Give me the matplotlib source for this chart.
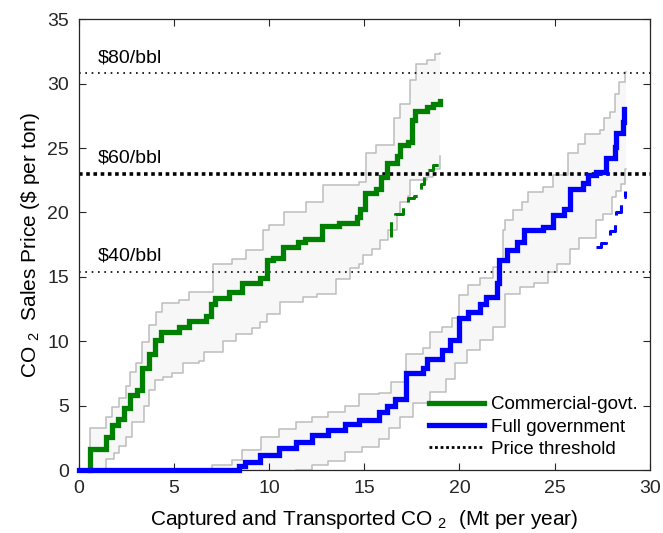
import matplotlib
matplotlib.use("Agg")
import matplotlib.pyplot as plt
from matplotlib.lines import Line2D

plt.rcParams["font.family"] = ["Liberation Sans", "DejaVu Sans"]
plt.rcParams["mathtext.default"] = "regular"

# step curves: at each x the curve jumps to y (post steps)
green_x = [0.6, 0.6, 1.44, 1.75, 2.07, 2.37, 2.71, 3.06, 3.33, 3.68,
           4.0, 4.29, 5.25, 5.78, 6.68, 6.95, 7.17, 7.9, 8.55, 9.51,
           9.86, 10.21, 10.74, 11.52, 11.88, 12.8, 13.68, 14.59, 14.77, 15.03,
           15.64, 15.9, 16.17, 16.7, 16.87, 17.3, 17.48, 17.66, 18.27, 18.62, 19.0]
green_y = [0, 1.6, 2.6, 3.5, 4.0, 4.8, 5.8, 6.2, 7.9, 9.05,
           10.1, 10.7, 11.1, 11.6, 11.95, 12.9, 13.35, 13.8, 14.5, 14.9,
           16.3, 16.5, 17.3, 17.7, 17.9, 18.95, 19.2, 19.65, 20.3, 21.5,
           21.85, 22.75, 23.8, 24.4, 25.2, 25.5, 27.15, 27.9, 28.2, 28.45, 28.65]

green_hi_x = [0.6, 0.6, 1.42, 1.75, 2.1, 2.45, 2.71, 3.0, 3.33, 3.68,
              4.03, 4.39, 5.25, 5.8, 7.06, 8.02, 8.8, 9.7, 10.0, 10.8,
              11.96, 12.84, 14.7, 15.1, 15.6, 16.55, 16.9, 17.4, 17.7, 18.3, 18.7, 19.0]
green_hi_y = [0, 3.3, 4.1, 4.9, 5.6, 6.5, 7.6, 8.3, 9.95, 11.25,
              12.3, 13.0, 13.2, 13.8, 16.0, 16.4, 17.1, 18.6, 19.0, 20.0,
              20.8, 22.1, 22.4, 24.6, 25.2, 27.3, 28.45, 30.25, 31.55, 31.8, 32.3, 32.4]

green_lo_x = [1.3, 1.4, 1.84, 2.1, 2.45, 2.8, 3.4, 3.7, 4.0, 4.4,
              4.9, 5.45, 6.3, 6.6, 7.55, 8.25, 9.1, 9.5, 9.86, 10.56,
              11.8, 12.5, 13.5, 14.24, 14.7, 14.94, 15.38, 15.8, 16.25, 16.7,
              16.87, 17.3, 17.4, 18.27, 18.6, 18.97, 19.0]
green_lo_y = [0, 0.9, 1.3, 1.9, 2.6, 3.75, 5.0, 6.2, 7.0, 7.2,
              7.5, 8.3, 8.5, 9.2, 10.0, 10.6, 11.0, 11.5, 12.15, 13.05,
              13.45, 13.7, 14.8, 15.65, 16.0, 16.7, 17.2, 17.85, 18.6, 19.9,
              20.8, 21.3, 22.5, 22.75, 23.4, 24.4, 24.4]

green_alt_x = [16.38, 16.38, 16.6, 17.04, 17.3, 17.6, 17.92, 18.0, 18.15, 18.27, 18.6, 18.97]
green_alt_y = [18.1, 19.3, 19.9, 20.55, 21.1, 21.3, 21.5, 22.2, 22.8, 23.3, 23.65, 23.9]

blue_x = [0, 8.4, 8.75, 9.5, 10.5, 11.4, 12.26, 13.1, 14.0, 14.7,
          15.76, 16.17, 16.6, 17.2, 18.1, 18.3, 19.06, 19.5, 20.0, 20.46,
          21.07, 21.42, 21.95, 22.1, 22.5, 23.0, 23.4, 24.4, 24.9, 25.5,
          25.8, 26.5, 26.76, 27.2, 27.7, 28.17, 28.25, 28.6, 28.65]
blue_y = [0, 0.3, 0.6, 1.2, 1.7, 2.2, 2.7, 3.1, 3.6, 3.9,
          4.5, 5.0, 5.5, 7.5, 7.9, 8.6, 9.3, 10.1, 11.8, 12.3,
          12.9, 13.45, 14.5, 16.3, 17.1, 17.7, 18.6, 18.9, 19.8, 20.3,
          21.85, 22.25, 22.9, 23.15, 24.2, 25.1, 26.2, 27.0, 28.05]

blue_hi_x = [5.8, 7.0, 8.06, 8.58, 9.55, 10.5, 11.4, 12.26, 13.1, 14.0,
             14.7, 15.76, 16.4, 17.2, 18.1, 18.45, 19.06, 19.6, 20.0, 20.46,
             21.07, 21.77, 22.1, 22.3, 22.4, 22.8, 23.3, 23.6, 24.4, 24.9,
             25.7, 26.24, 26.6, 27.4, 27.6, 27.9, 28.17, 28.4, 28.7, 28.75]
blue_hi_y = [0, 0.4, 0.8, 1.55, 2.6, 3.2, 3.75, 4.1, 4.5, 5.0,
             5.9, 6.0, 6.85, 9.05, 9.5, 10.7, 11.1, 11.8, 13.6, 14.35,
             14.9, 15.8, 16.4, 18.6, 19.4, 20.2, 20.8, 21.6, 22.0, 22.9,
             24.6, 25.35, 26.1, 26.4, 27.3, 27.8, 29.2, 30.1, 30.9, 30.9]

blue_lo_x = [11.4, 12.26, 13.1, 14.0, 14.9, 15.76, 16.3, 16.87, 17.57, 18.45,
             19.3, 19.76, 20.4, 21.07, 21.77, 22.4, 23.17, 23.9, 24.66, 25.1,
             25.8, 26.3, 27.2, 27.55, 28.0, 28.25, 28.5, 28.7, 28.75]
blue_lo_y = [0, 0.4, 0.7, 1.4, 1.8, 2.4, 3.3, 4.1, 5.2, 6.1,
             7.1, 8.3, 9.3, 10.1, 11.1, 13.7, 14.2, 14.5, 15.4, 16.0,
             17.2, 18.0, 19.4, 19.9, 21.2, 21.7, 22.2, 23.4, 23.4]

blue_alt_x = [27.2, 27.45, 27.7, 27.9, 28.2, 28.25, 28.5, 28.7]
blue_alt_y = [17.3, 17.6, 17.85, 18.55, 19.4, 20.0, 21.2, 21.7]

thresholds = [30.8, 23.0, 15.4]
threshold_labels = ["$80/bbl", "$60/bbl", "$40/bbl"]


def step_xy(xs, ys):
    px, py = [xs[0]], [ys[0]]
    for i in range(1, len(xs)):
        px += [xs[i], xs[i]]
        py += [ys[i - 1], ys[i]]
    return px, py


fig = plt.figure(figsize=(6.63, 5.33), dpi=100)
ax = fig.add_axes([0.119, 0.118, 0.861, 0.846])

band_gray = "#bdbdbd"
for hx, hy, lx, ly in [(green_hi_x, green_hi_y, green_lo_x, green_lo_y),
                       (blue_hi_x, blue_hi_y, blue_lo_x, blue_lo_y)]:
    ux, uy = step_xy(hx, hy)
    dx, dy = step_xy(lx, ly)
    ax.fill(ux + dx[::-1], uy + dy[::-1], color="#f7f7f7", lw=0, zorder=1)
    ax.plot(ux, uy, color=band_gray, lw=1.1, zorder=1.5)
    ax.plot(dx, dy, color=band_gray, lw=1.1, zorder=1.5)

# price thresholds
for thr, lab in zip(thresholds, threshold_labels):
    if lab.startswith("$60"):
        ax.axhline(thr, color="black", lw=2.6, ls=(0, (1, 1)), zorder=2)
    else:
        ax.axhline(thr, color="black", lw=1.2, ls=(0, (1, 2.8)), zorder=2)
    ax.text(1.0, thr + 0.85, lab.replace("$", r"\$"), fontsize=14, va="baseline")

gx, gy = step_xy(green_alt_x, green_alt_y)
ax.plot(gx, gy, color="#008000", lw=2.2, ls=(0, (5, 3.5)), zorder=3)
bx, by = step_xy(blue_alt_x, blue_alt_y)
ax.plot(bx, by, color="#0000ff", lw=2.2, ls=(0, (5, 3.5)), zorder=3)

gx, gy = step_xy(green_x, green_y)
ax.plot(gx, gy, color="#008000", lw=3.8, zorder=4, solid_joinstyle="miter", clip_on=False)
bx, by = step_xy(blue_x, blue_y)
ax.plot(bx, by, color="#0000ff", lw=3.8, zorder=4, solid_joinstyle="miter", clip_on=False)

ax.set_xlim(0, 30)
ax.set_ylim(0, 35)
ax.set_xticks(range(0, 31, 5))
ax.set_yticks(range(0, 36, 5))
ax.tick_params(direction="in", top=True, right=True, length=5, width=0.8,
               labelsize=14, colors="#262626", pad=7)
for sp in ax.spines.values():
    sp.set_color("#262626")
    sp.set_linewidth(0.9)

ax.set_xlabel("Captured and Transported CO $_2$  (Mt per year)", fontsize=15, labelpad=8)
ax.set_ylabel(r"CO $_2$  Sales Price (\$ per ton)", fontsize=15, labelpad=4)

handles = [Line2D([], [], color="#008000", lw=3.8),
           Line2D([], [], color="#0000ff", lw=3.8),
           Line2D([], [], color="black", lw=2.0, ls=(0, (1, 1)))]
ax.legend(handles, ["Commercial-govt.", "Full government", "Price threshold"],
          loc="lower right", frameon=False, fontsize=13.5, handlelength=2.95,
          labelspacing=0.28, handletextpad=0.37, borderaxespad=0.25)

fig.savefig("out.png", dpi=100)
